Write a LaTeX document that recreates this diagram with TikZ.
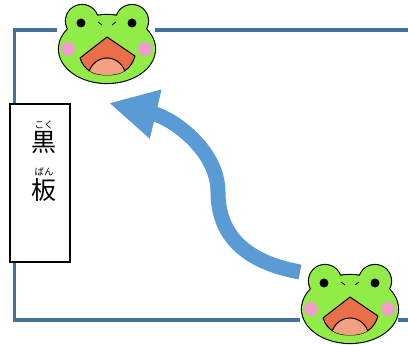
\documentclass[tikz,border=0pt]{standalone}
\usepackage{fontspec}
\newfontfamily\cjk{Noto Sans CJK JP}
\usepackage{tikz}
\usetikzlibrary{arrows.meta,positioning}

\definecolor{wallblue}{RGB}{65,113,156}
\definecolor{flowblue}{RGB}{91,155,213}
\definecolor{froggreen}{RGB}{146,236,72}
\definecolor{cheek}{RGB}{240,160,200}
\definecolor{mouthred}{RGB}{234,110,72}
\definecolor{tongue}{RGB}{242,162,130}

\begin{document}
\begin{tikzpicture}[x=1pt,y=-1pt,
  wall/.style={line width=3.5pt,wallblue},
  flow/.style={line width=15pt,flowblue,-{Triangle[length=48pt,width=47pt]}},
  ruby/.style={font=\cjk\fontsize{9.5}{9.5}\selectfont,inner sep=0pt},
  kanji/.style={font=\cjk\fontsize{25}{25}\selectfont,inner sep=0pt},
  frog/.pic={
    \fill[white] (-50,-47) rectangle (48,36);
    % head: face and two eye bumps
    \draw[line width=2.2pt,fill=froggreen] (0,-3) ellipse [x radius=48pt,y radius=34pt];
    \draw[line width=2.2pt,fill=froggreen] (-25,-31) circle [radius=16pt];
    \draw[line width=2.2pt,fill=froggreen] (25,-31) circle [radius=16pt];
    \fill[froggreen] (0,-3) ellipse [x radius=48pt,y radius=34pt];
    \fill[froggreen] (-25,-31) circle [radius=16pt];
    \fill[froggreen] (25,-31) circle [radius=16pt];
    \fill (-26,-29) circle [radius=4.5pt];
    \fill (25,-29) circle [radius=4.5pt];
    \draw[line width=0.8pt] (-9,-30) -- (-5,-27);
    \draw[line width=0.8pt] (9,-30) -- (5,-27);
    \fill[cheek] (-39,-3) circle [radius=7pt];
    \fill[cheek] (38,-3) circle [radius=7pt];
    % open mouth
    \draw[line width=1pt,fill=mouthred,line join=round] (-27,6) -- (0,-15) -- (28,4)
      .. controls (24,18) and (14,23) .. (0,23) .. controls (-14,23) and (-23,18) .. cycle;
    \begin{scope}
      \clip (-27,6) -- (0,-15) -- (28,4)
        .. controls (24,18) and (14,23) .. (0,23) .. controls (-14,23) and (-23,18) .. cycle;
      \draw[line width=1pt,fill=tongue] (0,26) ellipse [x radius=19pt,y radius=20pt];
    \end{scope}
  }]
\useasboundingbox (0,0) rectangle (408,345);

% classroom walls
\draw[wall] (408,30) -- (14.5,30) -- (14.5,320) -- (408,320);

% blackboard
\node[draw,fill=white,line width=1.2pt,minimum width=60pt,minimum height=158pt,inner sep=0pt] (board) at (40,183) {};
\node[ruby] (koku) at (44,125) {こく};
\node[kanji] (kuro) at (44,142) {黒};
\node[ruby] (ban) at (44,172) {ばん};
\node[kanji] (ita) at (44,190) {板};

% frogs
\pic (kaeruA) at (107,52) {frog};
\pic (kaeruB) at (350,312) {frog};

% movement
\coordinate (tail) at (300,272);
\coordinate (tip) at (109,103);
\draw[flow] (tail) .. controls (245,262) and (218,235) .. (218,192)
  .. controls (218,150) and (172,118) .. (tip);
\end{tikzpicture}
\end{document}
